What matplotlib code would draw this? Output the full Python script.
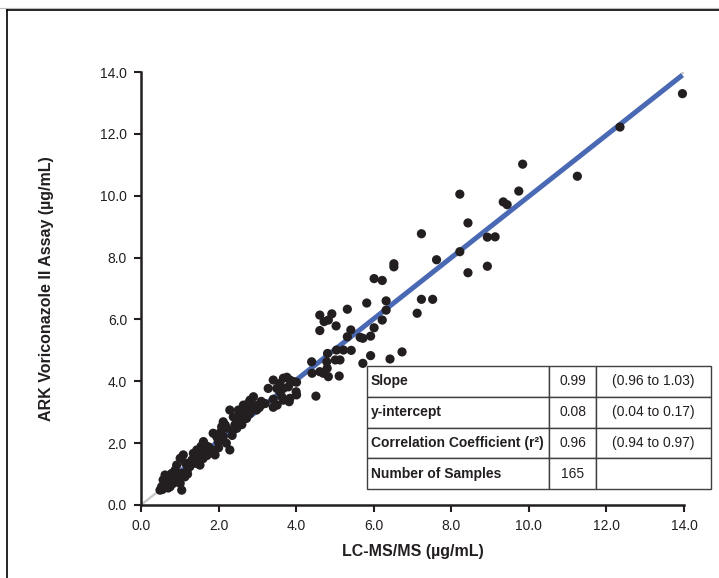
import numpy as np
import matplotlib as mpl
import matplotlib.pyplot as plt
from matplotlib.lines import Line2D

# LC-MS/MS (x) vs ARK assay (y), in ug/mL
lcms = [
    13.96, 12.35, 11.25, 9.84, 9.74, 9.34, 9.44, 8.22, 8.43, 8.93, 9.13, 7.23, 8.22, 7.62, 8.43, 8.93, 7.23, 7.52,
    6.52, 6.52, 6.01, 6.22, 5.82, 6.32, 6.32, 7.12, 6.22, 6.01, 5.92, 5.72, 5.65, 5.92, 6.42, 6.73, 5.72,
    4.61, 4.92, 4.72, 4.83, 5.32, 5.03, 4.61, 5.41, 5.32, 5.22, 5.04, 4.81, 5.01, 5.13, 4.40, 4.79, 4.80,
    4.61, 4.70, 4.41, 4.83, 5.11, 5.42,
    3.41, 3.67, 3.76, 3.84, 3.93, 4.01, 3.58, 3.50, 3.58, 3.67, 3.80, 3.28, 4.00, 4.01, 3.63, 3.67, 3.84,
    3.82, 4.51, 3.20, 3.41, 3.41, 3.51,
    2.90, 2.81, 2.77, 2.85, 2.94, 2.98, 2.64, 2.68, 2.72, 2.60, 2.64, 2.72, 2.51, 2.29, 2.38, 2.47, 2.55,
    2.12, 2.17, 2.08, 2.21, 2.42, 2.47, 2.38, 1.86, 1.95, 2.04, 2.12, 1.99, 1.61, 1.65, 1.74, 1.82, 2.29,
    1.86, 1.91, 1.44, 1.35, 1.52, 1.61,
    1.48, 1.52, 1.31, 1.26, 1.09, 1.01, 0.92, 0.88, 1.05, 1.13, 1.01, 1.05, 0.79, 0.70, 0.62, 0.57, 0.66,
    0.53, 0.49, 0.75, 0.83,
    1.20, 1.15, 1.40, 0.95, 1.70, 1.55, 2.00, 2.20, 2.35, 2.55, 2.80, 3.05, 3.10, 0.60, 0.70, 1.20, 1.60,
    1.75, 2.05, 2.60, 0.55, 0.90,
]
ark = [
    13.30, 12.22, 10.63, 11.02, 10.15, 9.80, 9.71, 10.05, 9.12, 8.66, 8.67, 8.77, 8.19, 7.93, 7.51, 7.72, 6.65, 6.65,
    7.80, 7.70, 7.32, 7.26, 6.53, 6.60, 6.30, 6.20, 5.98, 5.73, 5.46, 5.39, 5.42, 4.83, 4.72, 4.95, 4.58,
    6.14, 6.18, 5.93, 5.98, 6.33, 5.79, 5.64, 5.66, 5.44, 5.01, 5.01, 4.90, 4.69, 4.69, 4.63, 4.63, 4.42,
    4.31, 4.26, 4.26, 4.15, 4.17, 5.00,
    4.04, 4.10, 4.13, 4.04, 3.99, 3.97, 3.93, 3.77, 3.66, 3.77, 3.82, 3.77, 3.66, 3.56, 3.50, 3.39, 3.45,
    3.34, 3.52, 3.28, 3.16, 3.42, 3.23,
    3.50, 3.39, 3.29, 3.18, 3.23, 3.07, 3.23, 3.13, 3.02, 2.96, 2.85, 2.80, 3.07, 3.07, 2.85, 2.75, 2.69,
    2.69, 2.59, 2.53, 2.48, 2.59, 2.48, 2.42, 2.32, 2.21, 2.16, 2.21, 2.05, 2.05, 1.94, 1.88, 1.78, 1.78,
    1.72, 1.62, 1.78, 1.67, 1.62, 1.72,
    1.56, 1.29, 1.45, 1.24, 1.62, 1.51, 1.29, 1.13, 1.02, 0.91, 0.70, 0.48, 1.02, 0.91, 0.97, 0.81, 0.70,
    0.59, 0.48, 0.59, 0.70,
    1.00, 1.35, 1.35, 0.85, 1.60, 1.90, 1.85, 2.00, 2.25, 2.90, 2.95, 3.15, 3.35, 0.65, 0.55, 1.15, 1.50,
    1.75, 2.35, 2.60, 0.50, 0.95,
]

# regression summary table
stat_names = ['Slope', 'y-intercept', 'Correlation Coefficient (r²)', 'Number of Samples']
stat_values = ['0.99', '0.08', '0.96', '165']
stat_ci = ['(0.96 to 1.03)', '(0.04 to 0.17)', '(0.94 to 0.97)', '']
slope, intercept = 0.99, 0.08

ticks = [0, 2, 4, 6, 8, 10, 12, 14]
tick_labels = ['0.0', '2.0', '4.0', '6.0', '8.0', '10.0', '12.0', '14.0']

NARROW = ['Liberation Sans Narrow', 'Liberation Sans', 'DejaVu Sans']
mpl.rcParams['font.family'] = ['Liberation Sans', 'DejaVu Sans']

W, H = 719, 578
fig = plt.figure(figsize=(W / 100, H / 100), dpi=100)
ax = fig.add_axes([141 / W, (H - 505) / H, 543 / W, 433 / H])

x = np.array(lcms)
y = np.array(ark)

# identity line under the fit
ax.plot([0, 14], [0, 14], color='#c8c8c8', lw=1.6, zorder=1, solid_capstyle='butt')
xl = np.array([x.min(), x.max()])
ax.plot(xl, slope * xl + intercept, color='#4a69b4', lw=3.6, zorder=2, solid_capstyle='butt')
ax.scatter(x, y, s=44, color='#231f20', edgecolors='none', zorder=3, clip_on=False)

ax.set_xlim(0, 14)
ax.set_ylim(0, 14)
ax.set_xticks(ticks)
ax.set_xticklabels(tick_labels, family=NARROW, fontsize=10, color='#231f20')
ax.set_yticks(ticks)
ax.set_yticklabels(tick_labels, family=NARROW, fontsize=10, color='#231f20')
ax.tick_params(direction='out', length=5, width=1.5, color='#231f20', pad=5)
for side in ['top', 'right']:
    ax.spines[side].set_visible(False)
for side in ['left', 'bottom']:
    ax.spines[side].set_linewidth(1.8)
    ax.spines[side].set_color('#231f20')

ax.set_xlabel('LC-MS/MS (µg/mL)', fontsize=11.5, fontweight='bold', color='#231f20', labelpad=8)
ax.set_ylabel('ARK Voriconazole II Assay (µg/mL)', fontsize=11.5, fontweight='bold', color='#231f20', labelpad=33)

cells = [[n, v, c] for n, v, c in zip(stat_names, stat_values, stat_ci)]
tbl = ax.table(cellText=cells, colWidths=[182, 47, 115],
               bbox=[(367 - 141) / 543, (505 - 489) / 433, (711 - 367) / 543, (489 - 366) / 433])
tbl.auto_set_font_size(False)
for (r, c), cell in tbl.get_celld().items():
    cell.set_edgecolor('#404040')
    cell.set_linewidth(1.0)
    cell.set_facecolor('white')
    txt = cell.get_text()
    txt.set_fontsize(10)
    txt.set_family(NARROW)
    txt.set_color('#231f20')
    if c == 0:
        cell.set_text_props(ha='left', fontweight='bold')
        cell.PAD = 0.02
    else:
        cell.set_text_props(ha='center')
tbl.set_zorder(5)

# outer frame of the figure panel
fig.add_artist(Line2D([0, 1], [1 - 8 / H, 1 - 8 / H], color='#bbbbbb', lw=0.8, transform=fig.transFigure))
fig.add_artist(Line2D([7 / W, 1], [1 - 10 / H, 1 - 10 / H], color='black', lw=1.2, transform=fig.transFigure))
fig.add_artist(Line2D([7 / W, 7 / W], [0, 1 - 10 / H], color='black', lw=1.2, transform=fig.transFigure))

fig.savefig('out.png', dpi=100)
